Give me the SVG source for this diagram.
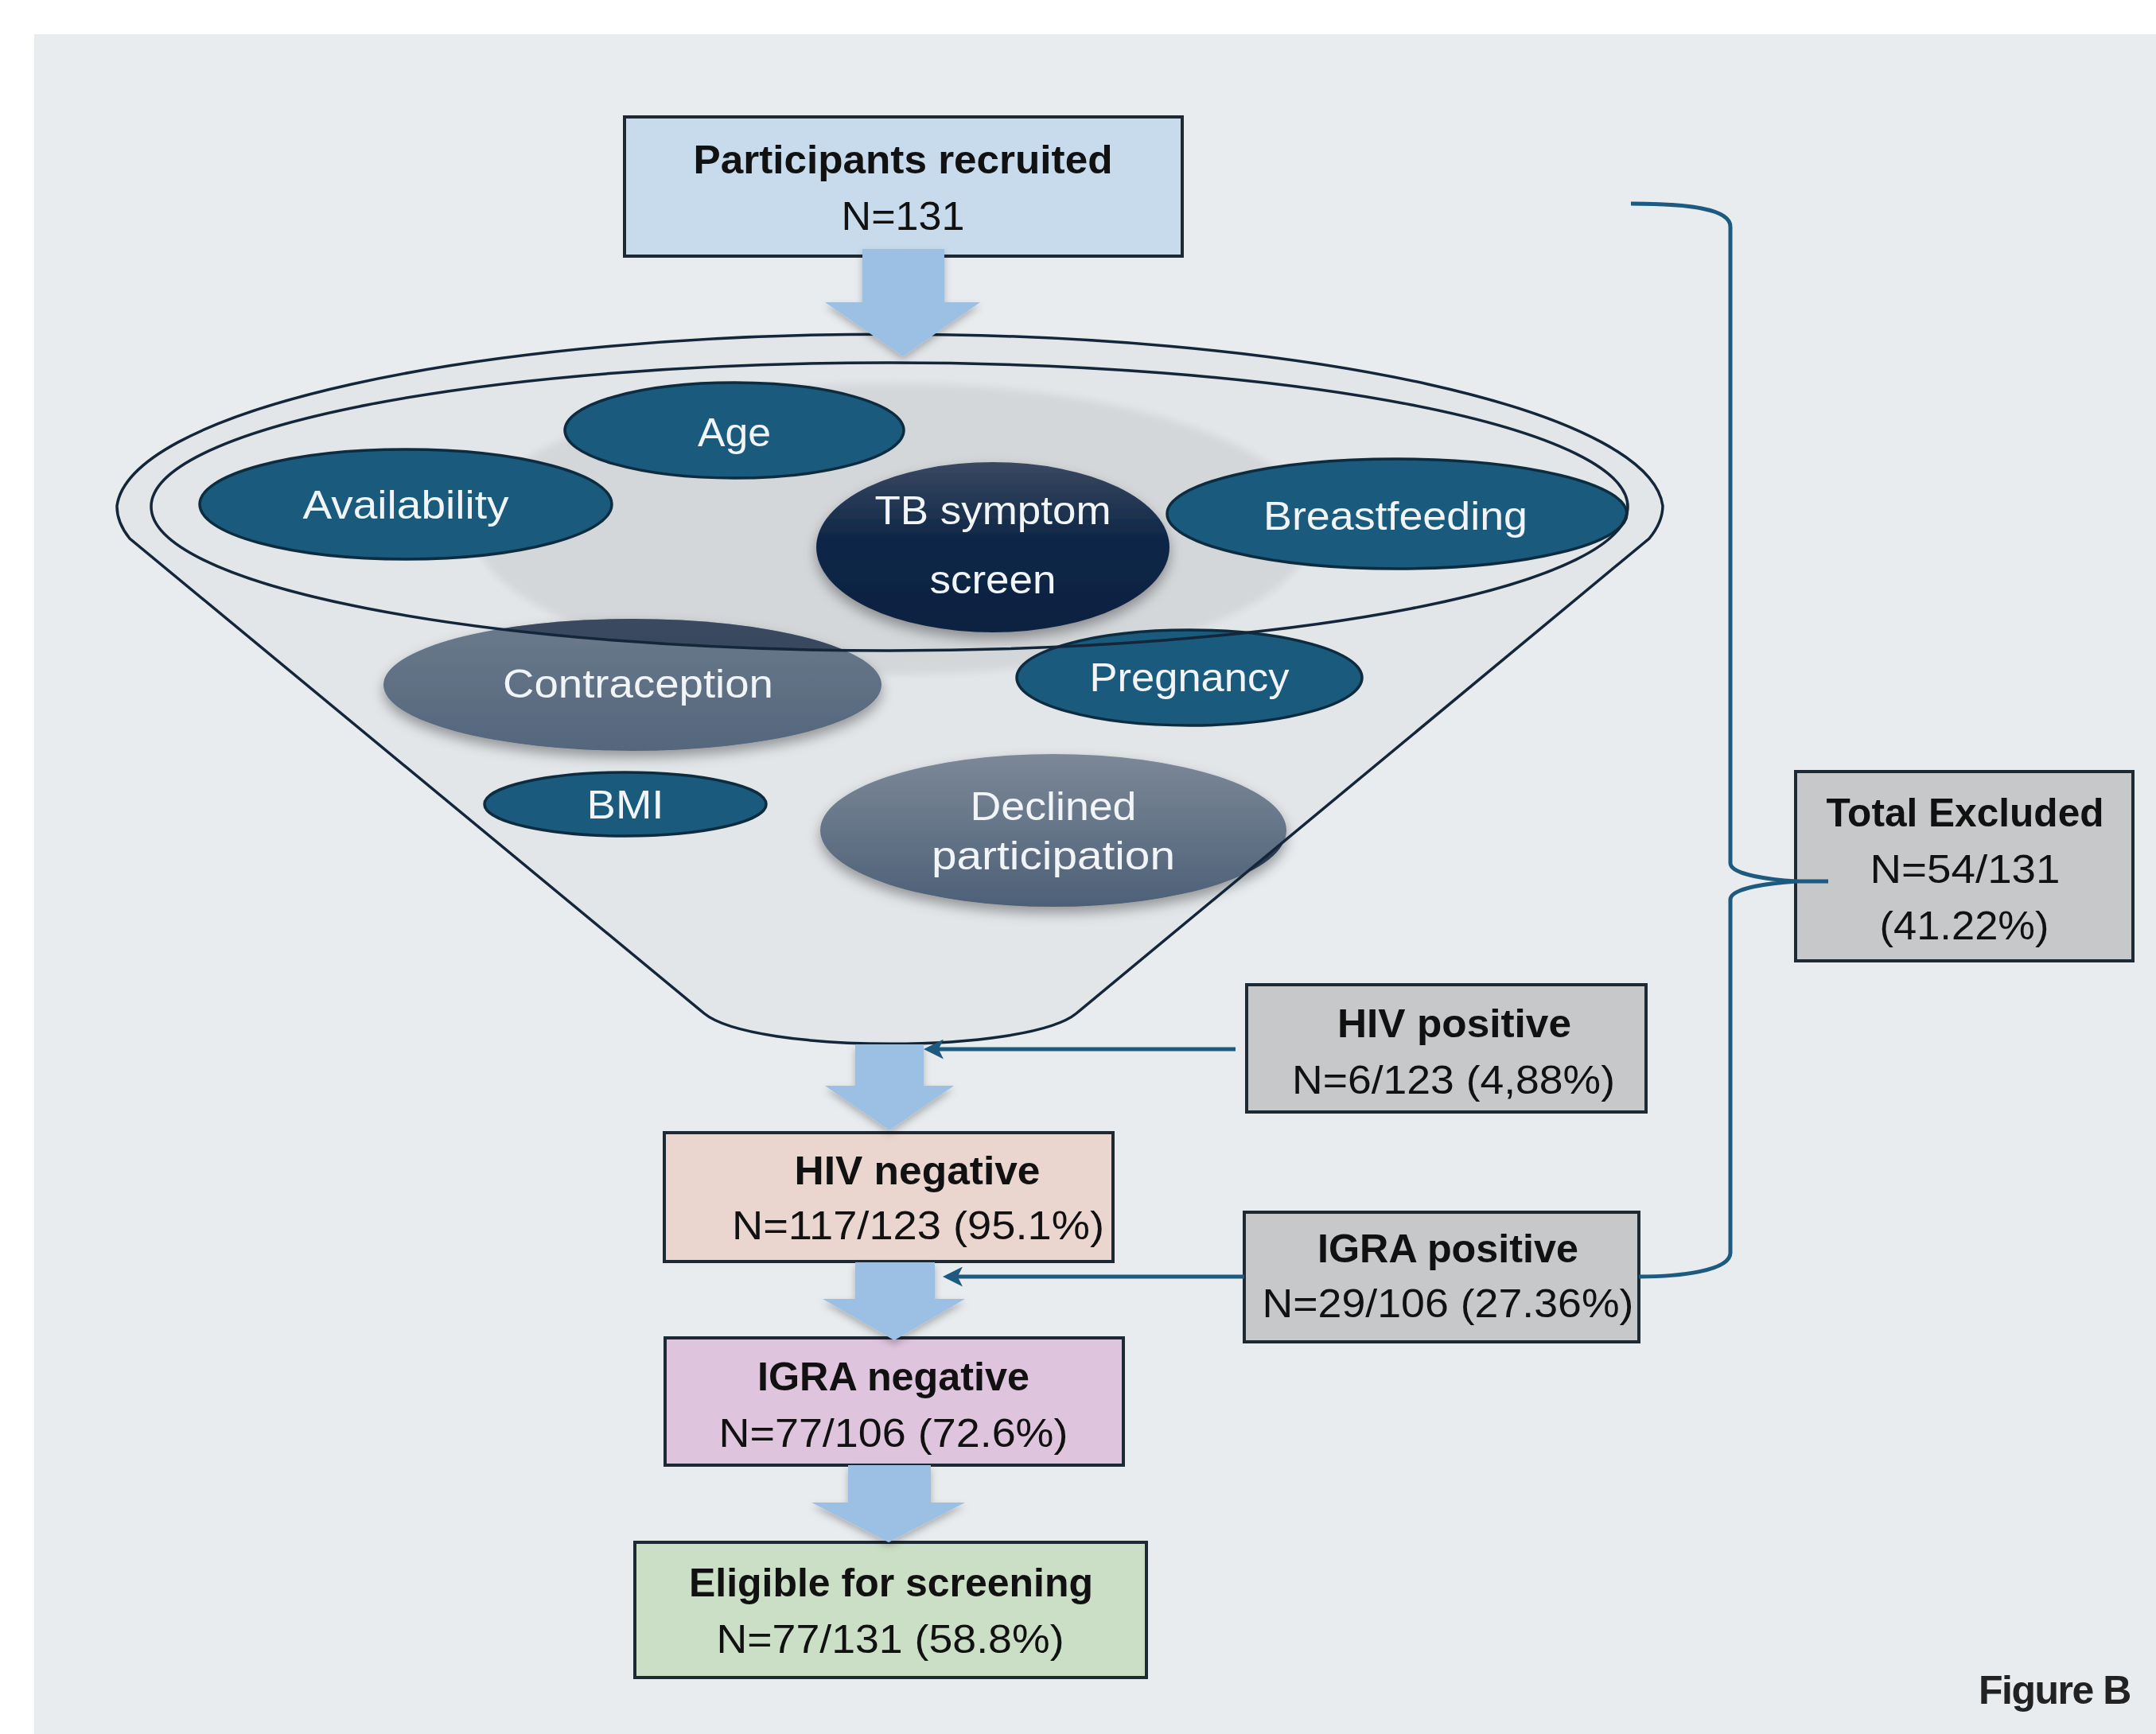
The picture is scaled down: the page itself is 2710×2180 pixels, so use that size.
<svg xmlns="http://www.w3.org/2000/svg" width="2710" height="2180" viewBox="0 0 2710 2180">
<style>
.t{font-family:"Liberation Sans",Arial,sans-serif;font-size:50px;text-anchor:middle;fill:#111}
.b{font-weight:bold}
.w{fill:#f2f5f8}
.box{stroke:#1e2a33;stroke-width:4}
.teal{fill:#195a7d;stroke:#0d2c40;stroke-width:3.5}
.fl{fill:none;stroke:#13263a;stroke-width:3.5}
.conn{fill:none;stroke:#1c5a7f;stroke-width:5}
.blk{fill:#9cc0e3;filter:url(#sh)}
</style>
<defs>
<filter id="sh" x="-30%" y="-30%" width="160%" height="160%"><feDropShadow dx="0" dy="5" stdDeviation="5" flood-color="#000" flood-opacity="0.25"/></filter>
<filter id="sh2" x="-30%" y="-30%" width="160%" height="160%"><feDropShadow dx="0" dy="8" stdDeviation="8" flood-color="#000" flood-opacity="0.35"/></filter>
<filter id="blur" x="-20%" y="-20%" width="140%" height="140%"><feGaussianBlur stdDeviation="5"/></filter>
<linearGradient id="tb" x1="0" y1="0" x2="0" y2="1"><stop offset="0" stop-color="#3a4860"/><stop offset="0.45" stop-color="#0e2747"/><stop offset="1" stop-color="#0a2240"/></linearGradient>
<linearGradient id="slate" x1="0" y1="0" x2="0" y2="1"><stop offset="0" stop-color="#7c8898"/><stop offset="1" stop-color="#4d6077"/></linearGradient>
<linearGradient id="slate2" x1="0" y1="0" x2="0" y2="1"><stop offset="0" stop-color="#6b7a8c"/><stop offset="1" stop-color="#54667c"/></linearGradient>
<clipPath id="inner"><ellipse cx="1118" cy="637" rx="928" ry="181"/></clipPath>
<clipPath id="outside"><path clip-rule="evenodd" d="M0,0H2710V2180H0Z M147,636 A972 223 0 0 1 2090,636 A972 223 0 0 1 2073,677 L1353,1274 C1291,1325 947,1325 885,1274 L163,677 A972 223 0 0 1 147,636 Z"/></clipPath>
<marker id="ah" viewBox="0 0 20 20" refX="16" refY="10" markerWidth="5" markerHeight="5" orient="auto" markerUnits="strokeWidth"><path d="M20,10 L0,0 L5,10 L0,20 Z" fill="#1c5a7f"/></marker>
</defs>
<rect x="0" y="0" width="2710" height="2180" fill="#ffffff"/>
<rect x="43" y="43" width="2667" height="2137" fill="#e8ecef"/>

<g id="funnel">
<path d="M147,636 A972 223 0 0 1 2090,636 A972 223 0 0 1 2073,677 L1353,1274 C1291,1325 947,1325 885,1274 L163,677 A972 223 0 0 1 147,636 Z" fill="#e3e6e9"/>
<ellipse cx="1123" cy="665" rx="527" ry="183" fill="#d4d7da" filter="url(#blur)"/>
</g>

<g id="age"><ellipse class="teal" cx="923" cy="541" rx="213" ry="60"/><text class="t w" x="923" y="561" textLength="92" lengthAdjust="spacingAndGlyphs">Age</text></g>
<g id="availability"><ellipse class="teal" cx="510" cy="634" rx="259" ry="69"/><text class="t w" x="510" y="652" textLength="259" lengthAdjust="spacingAndGlyphs">Availability</text></g>
<g id="breastfeeding"><ellipse class="teal" cx="1756" cy="646" rx="289" ry="69"/><text class="t w" x="1754" y="666" textLength="332" lengthAdjust="spacingAndGlyphs">Breastfeeding</text></g>
<g id="tb-symptom-screen"><ellipse cx="1248" cy="688" rx="222" ry="107" fill="url(#tb)" filter="url(#sh2)"/><text class="t w" x="1248" y="659" textLength="297" lengthAdjust="spacingAndGlyphs">TB symptom</text><text class="t w" x="1248" y="746" textLength="159" lengthAdjust="spacingAndGlyphs">screen</text></g>
<g id="contraception"><ellipse cx="795" cy="861" rx="313" ry="83" fill="url(#slate2)" filter="url(#sh2)"/><ellipse cx="795" cy="861" rx="313" ry="83" fill="#1a2a42" opacity="0.6" clip-path="url(#inner)"/><text class="t w" x="802" y="877" textLength="340" lengthAdjust="spacingAndGlyphs">Contraception</text></g>
<g id="pregnancy"><ellipse class="teal" cx="1495" cy="852" rx="217" ry="60"/><text class="t w" x="1495" y="869" textLength="251" lengthAdjust="spacingAndGlyphs">Pregnancy</text></g>
<g id="bmi"><ellipse class="teal" cx="786" cy="1011" rx="177" ry="40"/><text class="t w" x="786" y="1029" textLength="97" lengthAdjust="spacingAndGlyphs">BMI</text></g>
<g id="declined"><ellipse cx="1324" cy="1044" rx="293" ry="96" fill="url(#slate)" filter="url(#sh2)"/><ellipse cx="1324" cy="1044" rx="293" ry="96" fill="#14253c" opacity="0.7" clip-path="url(#outside)"/><text class="t w" x="1324" y="1031" textLength="209" lengthAdjust="spacingAndGlyphs">Declined</text><text class="t w" x="1324" y="1093" textLength="306" lengthAdjust="spacingAndGlyphs">participation</text></g>

<g id="funnel-outline">
<path class="fl" d="M147,636 A972 223 0 0 1 2090,636 A972 223 0 0 1 2073,677 L1353,1274 C1291,1325 947,1325 885,1274 L163,677 A972 223 0 0 1 147,636 Z"/>
<ellipse class="fl" cx="1118" cy="637" rx="928" ry="181"/>
</g>

<g id="recruited"><rect class="box" x="785" y="147" width="701" height="175" fill="#c7dbec"/><text class="t b" x="1135" y="218" textLength="527" lengthAdjust="spacingAndGlyphs">Participants recruited</text><text class="t" x="1135" y="289" textLength="155" lengthAdjust="spacingAndGlyphs">N=131</text></g>
<g id="hiv-positive"><rect class="box" x="1567" y="1238" width="502" height="160" fill="#c6c8ca"/><text class="t b" x="1828" y="1304" textLength="294" lengthAdjust="spacingAndGlyphs">HIV positive</text><text class="t" x="1827" y="1375" textLength="406" lengthAdjust="spacingAndGlyphs">N=6/123 (4,88%)</text></g>
<g id="hiv-negative"><rect class="box" x="835" y="1424" width="564" height="162" fill="#ebd6cf"/><text class="t b" x="1153" y="1489" textLength="309" lengthAdjust="spacingAndGlyphs">HIV negative</text><text class="t" x="1154" y="1558" textLength="468" lengthAdjust="spacingAndGlyphs">N=117/123 (95.1%)</text></g>
<g id="igra-positive"><rect class="box" x="1564" y="1524" width="496" height="163" fill="#c6c8ca"/><text class="t b" x="1820" y="1587" textLength="328" lengthAdjust="spacingAndGlyphs">IGRA positive</text><text class="t" x="1820" y="1656" textLength="467" lengthAdjust="spacingAndGlyphs">N=29/106 (27.36%)</text></g>
<g id="igra-negative"><rect class="box" x="836" y="1682" width="576" height="160" fill="#dec4dd"/><text class="t b" x="1123" y="1748" textLength="342" lengthAdjust="spacingAndGlyphs">IGRA negative</text><text class="t" x="1123" y="1819" textLength="439" lengthAdjust="spacingAndGlyphs">N=77/106 (72.6%)</text></g>
<g id="eligible"><rect class="box" x="798" y="1939" width="643" height="170" fill="#cbdfc6"/><text class="t b" x="1120" y="2007" textLength="508" lengthAdjust="spacingAndGlyphs">Eligible for screening</text><text class="t" x="1119" y="2078" textLength="437" lengthAdjust="spacingAndGlyphs">N=77/131 (58.8%)</text></g>
<g id="total-excluded"><rect class="box" x="2257" y="970" width="424" height="238" fill="#c6c8ca"/><text class="t b" x="2470" y="1039" textLength="349" lengthAdjust="spacingAndGlyphs">Total Excluded</text><text class="t" x="2470" y="1110" textLength="239" lengthAdjust="spacingAndGlyphs">N=54/131</text><text class="t" x="2469" y="1181" textLength="213" lengthAdjust="spacingAndGlyphs">(41.22%)</text></g>

<g id="connectors">
<polygon class="blk" points="1084,313 1187,313 1187,380 1232,380 1135,448 1037,380 1084,380"/>
<polygon class="blk" points="1075,1313 1161,1313 1161,1365 1199,1365 1118,1421 1037,1365 1075,1365"/>
<polygon class="blk" points="1075,1587 1175,1587 1175,1633 1213,1633 1124,1685 1034,1633 1075,1633"/>
<polygon class="blk" points="1066,1842 1170,1842 1170,1889 1213,1889 1117,1939 1020,1889 1066,1889"/>
<line class="conn" x1="1553" y1="1319" x2="1166" y2="1319" marker-end="url(#ah)"/>
<line class="conn" x1="1564" y1="1605" x2="1190" y2="1605" marker-end="url(#ah)"/>
<path class="conn" d="M2050,256 C2120,256 2175,262 2175,285 L2175,1085 C2175,1100 2228,1106 2258,1108 L2298,1108 M2258,1108 C2228,1110 2175,1116 2175,1131 L2175,1575 C2175,1598 2110,1605 2060,1605"/>
</g>

<text x="2487" y="2142" style="font-family:'Liberation Sans',Arial,sans-serif;font-size:50px;font-weight:bold;fill:#222;letter-spacing:-1.5px">Figure B</text>
</svg>
